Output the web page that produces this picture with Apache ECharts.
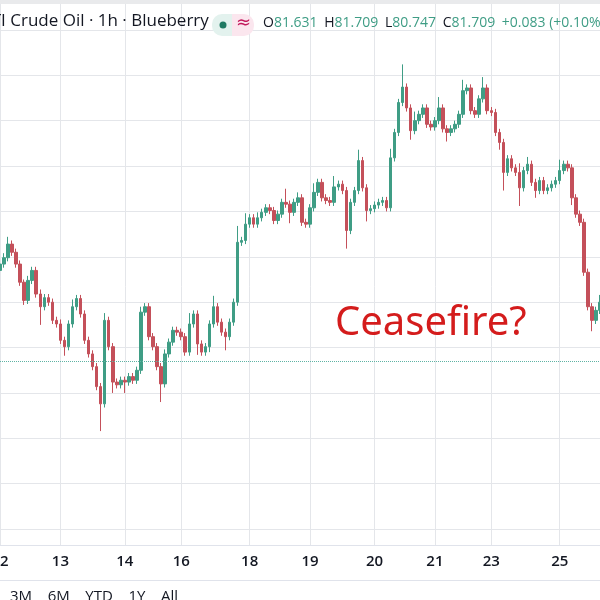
<!DOCTYPE html>
<html>
<head>
<meta charset="utf-8">
<script src="https://cdn.jsdelivr.net/npm/echarts@6/dist/echarts.min.js"></script>
<style>html,body{margin:0;padding:0;background:#fff}#main{width:600px;height:600px}</style>
</head>
<body>
<div id="main"></div>
<script>
// 日期标签（每根K线一个位置，空串表示无标签）
var dayLabels = {0: '12', 15: '13', 31: '14', 45: '16', 62: '18', 77: '19', 93: '20', 108: '21', 122: '23', 139: '25'};
var firstOpen = 81.85;
var closes = [
    81.92, 81.99, 82.14, 82.05, 81.92, 81.72, 81.52, 81.74, 81.85, 81.59,
    81.45, 81.55, 81.50, 81.30, 81.26, 81.08, 81.01, 81.26, 81.45, 81.54,
    81.37, 81.08, 80.93, 80.79, 80.57, 80.38, 81.30, 81.01, 80.62, 80.59,
    80.64, 80.62, 80.68, 80.64, 80.75, 81.39, 81.45, 81.12, 81.01, 80.79,
    80.60, 80.93, 81.06, 81.19, 81.17, 81.12, 80.95, 81.26, 81.37, 81.04,
    80.95, 81.01, 81.26, 81.45, 81.28, 81.17, 81.12, 81.28, 81.50, 82.16,
    82.18, 82.36, 82.43, 82.36, 82.43, 82.49, 82.54, 82.51, 82.40, 82.47,
    82.60, 82.58, 82.49, 82.60, 82.65, 82.38, 82.36, 82.54, 82.71, 82.82,
    82.65, 82.62, 82.60, 82.77, 82.80, 82.73, 82.29, 82.60, 82.73, 83.06,
    82.76, 82.51, 82.53, 82.57, 82.60, 82.62, 82.54, 83.09, 83.37, 83.70,
    83.87, 83.64, 83.39, 83.50, 83.57, 83.64, 83.46, 83.43, 83.50, 83.64,
    83.41, 83.37, 83.41, 83.46, 83.57, 83.83, 83.86, 83.61, 83.57, 83.74,
    83.86, 83.61, 83.59, 83.37, 83.26, 82.93, 83.08, 82.98, 82.93, 82.76,
    82.95, 83.02, 82.82, 82.73, 82.84, 82.73, 82.76, 82.80, 82.84, 82.95,
    83.02, 82.98, 82.65, 82.47, 82.38, 81.83, 81.45, 81.30, 81.41, 81.50
];
var wickUp = [
    .04,.05,.08,.04,.04,.04,.03,.05,.04,.04,
    .05,.04,.04,.04,.04,.05,.04,.04,.08,.04,
    .04,.04,.04,.04,.04,.04,.08,.04,.04,.04,
    .04,.04,.04,.04,.04,.06,.04,.04,.04,.04,
    .04,.05,.04,.04,.04,.04,.04,.12,.04,.04,
    .04,.04,.04,.12,.04,.04,.04,.04,.04,.18,
    .04,.12,.04,.04,.06,.04,.04,.04,.04,.04,
    .04,.15,.04,.04,.06,.04,.04,.04,.10,.04,
    .04,.04,.04,.12,.04,.04,.04,.04,.04,.12,
    .04,.04,.04,.04,.04,.04,.04,.10,.04,.04,
    .25,.04,.04,.10,.04,.04,.04,.04,.04,.12,
    .04,.04,.04,.04,.04,.12,.04,.04,.04,.04,
    .12,.04,.04,.04,.04,.04,.04,.04,.04,.10,
    .04,.08,.04,.04,.04,.04,.04,.04,.04,.12,
    .04,.04,.04,.04,.04,.04,.04,.04,.04,.08
];
var wickDn = [
    .04,.04,.04,.04,.04,.04,.05,.04,.04,.04,
    .20,.04,.04,.04,.04,.04,.10,.04,.04,.04,
    .04,.04,.04,.04,.04,.30,.04,.04,.12,.04,
    .04,.12,.04,.04,.04,.04,.04,.04,.04,.04,
    .20,.04,.04,.04,.04,.04,.04,.04,.04,.12,
    .04,.04,.06,.04,.04,.04,.15,.04,.04,.04,
    .04,.04,.04,.04,.04,.04,.04,.04,.04,.04,
    .04,.04,.12,.04,.04,.04,.04,.04,.04,.04,
    .04,.04,.04,.04,.04,.04,.20,.04,.04,.04,
    .04,.12,.04,.04,.04,.04,.04,.04,.04,.04,
    .04,.04,.10,.04,.04,.04,.04,.04,.04,.04,
    .04,.10,.04,.04,.04,.04,.04,.04,.04,.04,
    .04,.04,.04,.04,.08,.20,.04,.04,.04,.20,
    .04,.04,.04,.08,.04,.04,.04,.04,.04,.04,
    .04,.04,.08,.04,.04,.04,.04,.12,.04,.04
];
var lastPriceLine = 80.85;

var cats = [], kdata = [];
for (var i = 0; i < closes.length; i++) {
    var o = i === 0 ? firstOpen : closes[i - 1];
    var c = closes[i];
    cats.push(dayLabels[i] || '');
    kdata.push([o, c, Math.min(o, c) - wickDn[i], Math.max(o, c) + wickUp[i]]);
}

var myChart = echarts.init(document.getElementById('main'));
var gridColors = ['transparent'];
for (var j = 0; j < 13; j++) gridColors.push('#e4e6ea');
var green = '#3f9d85', red = '#c4505a';
var font = 'Open Sans';

var option = {
    backgroundColor: '#fff',
    animation: false,
    grid: {left: 0, right: 0, top: -15.5, bottom: 25.5, containLabel: false, outerBoundsMode: 'none'},
    xAxis: [
        {
            type: 'category', data: cats, boundaryGap: false, z: 10,
            axisLine: {show: false}, axisTick: {show: false}, splitLine: {show: false},
            axisLabel: {interval: 0, margin: -20, color: '#131722', fontSize: 15, fontFamily: font, fontWeight: 600}
        },
        {
            type: 'category', data: cats, boundaryGap: false, z: 0, position: 'bottom',
            axisLine: {show: false}, axisTick: {show: false}, axisLabel: {show: false},
            splitLine: {show: true, interval: function (idx, val) { return val !== ''; }, lineStyle: {color: '#e4e6ea'}}
        }
    ],
    yAxis: {
        type: 'value', min: 78.5, max: 85, interval: 0.5,
        axisLine: {show: false}, axisTick: {show: false}, axisLabel: {show: false},
        splitLine: {lineStyle: {color: gridColors}}
    },
    series: [{
        type: 'candlestick', data: kdata, barWidth: 3,
        itemStyle: {color: green, color0: red, borderColor: green, borderColor0: red, borderWidth: 1},
        markLine: {
            symbol: 'none', silent: true, label: {show: false},
            lineStyle: {type: 'dotted', color: '#5fb3a4', width: 1},
            data: [{yAxis: lastPriceLine}]
        }
    }],
    graphic: [
        {type: 'rect', z: 5, shape: {x: 0, y: 546, width: 600, height: 54}, style: {fill: '#fff'}},
        {type: 'line', z: 6, shape: {x1: 0, y1: 545.5, x2: 600, y2: 545.5}, style: {stroke: '#e0e3eb', lineWidth: 1}},
        {type: 'line', z: 6, shape: {x1: 0, y1: 580.5, x2: 600, y2: 580.5}, style: {stroke: '#e0e3eb', lineWidth: 1}},
        {type: 'rect', z: 6, shape: {x: 0, y: 0, width: 600, height: 4}, style: {fill: '#e9eaec'}},
        {type: 'text', z: 7, left: -24, top: 13, style: {text: 'WTI Crude Oil · 1h · Blueberry', fontSize: 17, fontFamily: font, fill: '#131722'}},
        {type: 'rect', z: 7, shape: {x: 212, y: 14, width: 20, height: 22, r: [10, 0, 0, 10]}, style: {fill: '#e3f2ee'}},
        {type: 'rect', z: 7, shape: {x: 232, y: 14, width: 22, height: 22, r: [0, 10, 10, 0]}, style: {fill: '#fbe6ee'}},
        {type: 'circle', z: 8, shape: {cx: 223, cy: 25, r: 3.5}, style: {fill: '#1f7a63'}},
        {type: 'text', z: 8, left: 236, top: 14, style: {text: '≈', fontSize: 18, fontFamily: 'DejaVu Sans', fill: '#c2185b'}},
        {type: 'text', z: 7, left: 263, top: 16, style: {
            text: '{k|O}{v|81.631}  {k|H}{v|81.709}  {k|L}{v|80.747}  {k|C}{v|81.709}  {v|+0.083 (+0.10%)}',
            rich: {
                k: {fontSize: 14, fontFamily: font, fill: '#131722'},
                v: {fontSize: 14, fontFamily: font, fill: '#3f9d85'}
            }
        }},
        {type: 'text', z: 7, left: 335, top: 304, style: {text: 'Ceasefire?', fontSize: 40, fontFamily: 'Noto Sans', fill: '#d41c1c'}},
        {type: 'text', z: 7, left: 10, top: 589, style: {
            text: '3M    6M    YTD    1Y    All', fontSize: 15, fontFamily: font, fill: '#131722'
        }}
    ]
};
myChart.setOption(option);
</script>
</body>
</html>
